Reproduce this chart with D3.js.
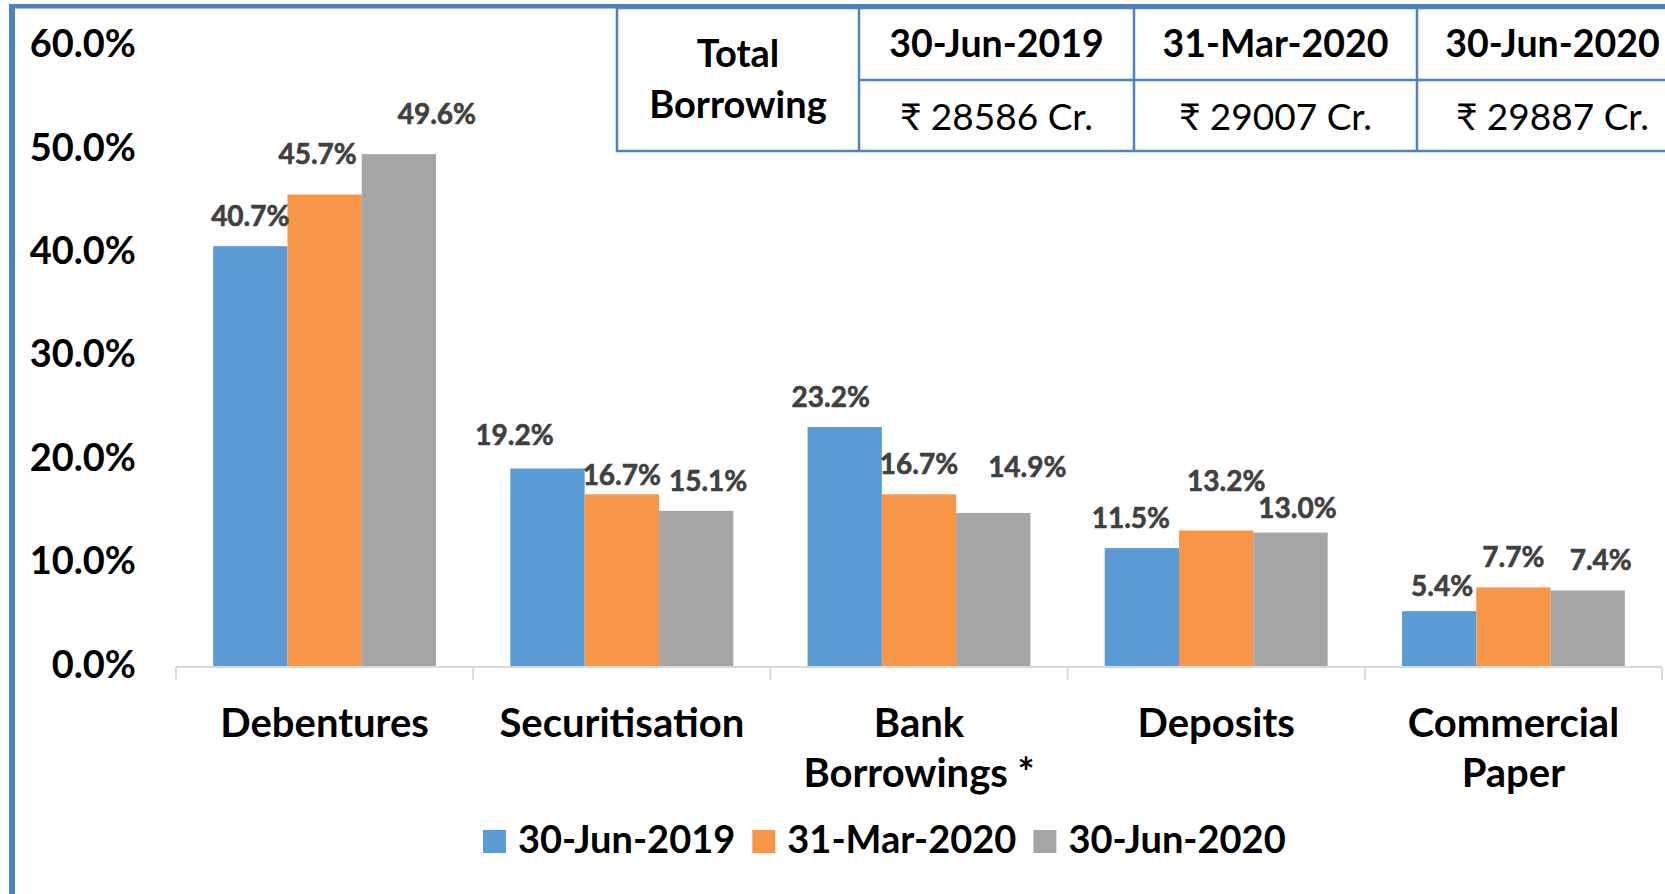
<!DOCTYPE html>
<html>
<head>
<meta charset="utf-8">
<script src="https://cdn.jsdelivr.net/npm/d3@7"></script>
<style>
  body { margin: 0; background: #fff; }
  text { font-family: Lato, "Open Sans", sans-serif; }
</style>
</head>
<body>
<div id="chart"></div>
<script>
// Borrowing mix (share of total borrowing, %)
const categories = ["Debentures", "Securitisation", "Bank Borrowings *", "Deposits", "Commercial Paper"];
const seriesNames = ["30-Jun-2019", "31-Mar-2020", "30-Jun-2020"];
const jun2019 = [40.7, 19.2, 23.2, 11.5, 5.4];
const mar2020 = [45.7, 16.7, 16.7, 13.2, 7.7];
const jun2020 = [49.6, 15.1, 14.9, 13.0, 7.4];
const totalBorrowing = ["₹ 28586 Cr.", "₹ 29007 Cr.", "₹ 29887 Cr."];
const yTicks = [0, 10, 20, 30, 40, 50, 60];

const colors = ["#5b9bd5", "#f79646", "#a5a5a5"];
const series = [jun2019, mar2020, jun2020];

// labels were dragged around by hand in the original, [dx, dy] per series / category
const labelNudge = [
  [[0, 0], [-33, -3], [-14, 0], [-11, 0], [3, 5]],
  [[-7, -10], [0, 11], [0, 0], [10, -20], [0, 0]],
  [[38, -10], [12, 0], [34, -16], [7, 5], [13, 0]]
];

const W = 1665, H = 894;
const svg = d3.select("#chart").append("svg").attr("width", W).attr("height", H);

const y = d3.scaleLinear().domain([0, 60]).range([667, 46.6]);
const x0 = d3.scaleBand().domain(categories).range([176, 1662])
  .paddingInner(0.25).paddingOuter(0.125);
const x1 = d3.scaleBand().domain(d3.range(series.length)).range([0, x0.bandwidth()]);

// ---------- y labels ----------
const yAxis = d3.axisLeft(y).tickValues(yTicks).tickSize(0).tickPadding(0)
  .tickFormat(d => d3.format(".1f")(d) + "%");
svg.append("g").attr("transform", "translate(136,0)").call(yAxis)
  .call(g => g.select(".domain").remove())
  .selectAll("text")
  .attr("dy", null).attr("y", 10)
  .attr("font-family", "Lato, 'Open Sans', sans-serif")
  .attr("font-size", 38).attr("font-weight", "bold").attr("fill", "#000");

// ---------- bars ----------
series.forEach((vals, i) => {
  svg.append("g").selectAll("rect").data(vals).join("rect")
    .attr("x", (d, j) => x0(categories[j]) + x1(i))
    .attr("y", d => y(d))
    .attr("width", x1.bandwidth())
    .attr("height", d => y(0) - y(d))
    .attr("fill", colors[i]);
});

// ---------- x axis line + boundary ticks ----------
const base = y(0);
svg.append("line").attr("x1", 176).attr("x2", 1662).attr("y1", base).attr("y2", base)
  .attr("stroke", "#d9d9d9").attr("stroke-width", 2);
svg.append("g").selectAll("line").data(d3.range(categories.length + 1)).join("line")
  .attr("x1", i => 176 + i * x0.step()).attr("x2", i => 176 + i * x0.step())
  .attr("y1", base).attr("y2", base + 13)
  .attr("stroke", "#d9d9d9").attr("stroke-width", 2);

// ---------- data labels ----------
series.forEach((vals, i) => {
  svg.append("g").selectAll("text").data(vals).join("text")
    .attr("x", (d, j) => x0(categories[j]) + x1(i) + x1.bandwidth() / 2 + labelNudge[i][j][0])
    .attr("y", (d, j) => y(d) - 20 + labelNudge[i][j][1])
    .attr("text-anchor", "middle")
    .attr("font-size", 28).attr("font-weight", "bold").attr("fill", "#404040")
    .attr("stroke", "#404040").attr("stroke-width", 0.6)
    .text(d => d3.format(".1f")(d) + "%");
});

// ---------- category labels (wrapped) ----------
const catG = svg.append("g");
categories.forEach(c => {
  const cx = x0(c) + x0.bandwidth() / 2;
  const t = catG.append("text")
    .attr("x", cx)
    .attr("y", 737)
    .attr("text-anchor", "middle")
    .attr("font-size", 40).attr("font-weight", "bold").attr("fill", "#000");
  let line = [];
  let tspan = t.append("tspan").attr("x", cx).attr("dy", 0);
  c.split(" ").forEach(w => {
    line.push(w);
    tspan.text(line.join(" "));
    if (tspan.node().getComputedTextLength() > x0.step() * 0.95 && line.length > 1) {
      line.pop();
      tspan.text(line.join(" "));
      line = [w];
      tspan = t.append("tspan").attr("x", cx).attr("dy", 50).text(w);
    }
  });
});

// ---------- legend ----------
const legend = svg.append("g");
let lx = 483;
seriesNames.forEach((name, i) => {
  legend.append("rect").attr("x", lx).attr("y", 830).attr("width", 23).attr("height", 23)
    .attr("fill", colors[i]);
  const t = legend.append("text").attr("x", lx + 35).attr("y", 853)
    .attr("font-size", 38).attr("font-weight", "bold").attr("fill", "#000")
    .text(name);
  lx += 35 + t.node().getComputedTextLength() + 17;
});

// ---------- total borrowing table ----------
const tableCols = [617, 859, 1134, 1417, 1688];
const tTop = 8, tMid = 80, tBot = 151;
const blue = "#4f81bd";
const tbl = svg.append("g");
tbl.append("rect").attr("x", tableCols[0]).attr("y", tTop)
  .attr("width", tableCols[4] - tableCols[0]).attr("height", tBot - tTop)
  .attr("fill", "#fff").attr("stroke", blue).attr("stroke-width", 2.5);
tbl.selectAll("line.v").data(tableCols.slice(1, 4)).join("line")
  .attr("x1", d => d).attr("x2", d => d).attr("y1", tTop).attr("y2", tBot)
  .attr("stroke", blue).attr("stroke-width", 2.5);
tbl.append("line").attr("x1", tableCols[1]).attr("x2", tableCols[4])
  .attr("y1", tMid).attr("y2", tMid).attr("stroke", blue).attr("stroke-width", 2.5);

const c0 = (tableCols[0] + tableCols[1]) / 2;
tbl.append("text").attr("x", c0).attr("y", 66.7).attr("text-anchor", "middle")
  .attr("font-size", 38).attr("font-weight", "bold").text("Total");
tbl.append("text").attr("x", c0).attr("y", 118.3).attr("text-anchor", "middle")
  .attr("font-size", 38).attr("font-weight", "bold").text("Borrowing");

seriesNames.forEach((name, i) => {
  const cx = (tableCols[i + 1] + tableCols[i + 2]) / 2;
  tbl.append("text").attr("x", cx).attr("y", 56.7).attr("text-anchor", "middle")
    .attr("font-size", 37.5).attr("font-weight", "bold").text(name);
  tbl.append("text").attr("x", cx).attr("y", 130).attr("text-anchor", "middle")
    .attr("font-size", 37).text(totalBorrowing[i]);
});

// ---------- outer frame (only top and left edges are in view) ----------
svg.append("line").attr("x1", 12).attr("x2", 12).attr("y1", 4).attr("y2", H)
  .attr("stroke", blue).attr("stroke-width", 6);
svg.append("line").attr("x1", 9).attr("x2", W).attr("y1", 6.2).attr("y2", 6.2)
  .attr("stroke", blue).attr("stroke-width", 4.5);
</script>
</body>
</html>
